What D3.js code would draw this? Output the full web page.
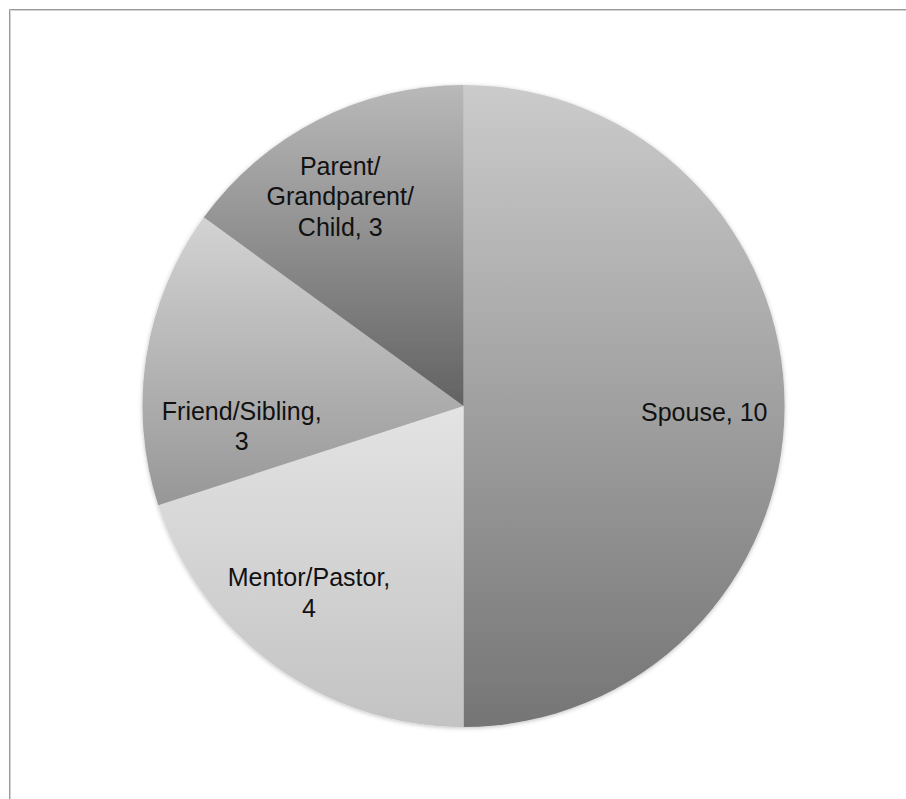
<!DOCTYPE html>
<html>
<head>
<meta charset="utf-8">
<script src="https://cdn.jsdelivr.net/npm/d3@7"></script>
<style>
  html, body { margin: 0; padding: 0; background: #fff; }
  svg { display: block; }
</style>
</head>
<body>
<svg id="chart" width="906" height="799"></svg>
<script>
// ---- data ----
const categories = ["Spouse", "Mentor/Pastor", "Friend/Sibling", "Parent/Grandparent/Child"];
const values = [10, 4, 3, 3];
const labelLines = [
  ["Spouse, 10"],
  ["Mentor/Pastor,", "4"],
  ["Friend/Sibling,", "3"],
  ["Parent/", "Grandparent/", "Child, 3"]
];

// ---- styles / layout (not data) ----
const gradTop = ["#cbcbcb", "#e3e3e3", "#d3d3d3", "#b9b9b9"];
const gradBottom = ["#757575", "#c3c3c3", "#979797", "#626262"];
const labelNudge = [[0, 6], [-13, -8], [16, 58], [-14, 5]];

const W = 906, H = 799;
const cx = 463.5, cy = 406, R = 321;

const svg = d3.select("#chart");
const defs = svg.append("defs");

// frame lines
svg.append("line").attr("x1", 9.5).attr("x2", W).attr("y1", 9.5).attr("y2", 9.5)
  .attr("stroke", "#9a9a9a").attr("stroke-width", 1);
svg.append("line").attr("x1", 10.5).attr("x2", W).attr("y1", 10.5).attr("y2", 10.5)
  .attr("stroke", "#d2d2d2").attr("stroke-width", 1);
svg.append("line").attr("x1", 9.5).attr("x2", 9.5).attr("y1", 9.5).attr("y2", H)
  .attr("stroke", "#9a9a9a").attr("stroke-width", 1);
svg.append("line").attr("x1", 10.5).attr("x2", 10.5).attr("y1", 10.5).attr("y2", H)
  .attr("stroke", "#d2d2d2").attr("stroke-width", 1);

// soft shadow
const f = defs.append("filter").attr("id", "shadow")
  .attr("x", "-10%").attr("y", "-10%").attr("width", "120%").attr("height", "120%");
f.append("feDropShadow").attr("dx", 0).attr("dy", 1).attr("stdDeviation", 2)
  .attr("flood-color", "#000").attr("flood-opacity", 0.25);

categories.forEach((c, i) => {
  const g = defs.append("linearGradient").attr("id", "grad" + i)
    .attr("x1", 0).attr("y1", 0).attr("x2", 0).attr("y2", 1);
  g.append("stop").attr("offset", "0%").attr("stop-color", gradTop[i]);
  g.append("stop").attr("offset", "100%").attr("stop-color", gradBottom[i]);
});

const pie = d3.pie().sort(null).value(d => d.value);
const arcs = pie(categories.map((c, i) => ({ name: c, value: values[i], idx: i })));
const arc = d3.arc().innerRadius(0).outerRadius(R);
const labelArc = d3.arc().innerRadius(R * 0.75).outerRadius(R * 0.75);

const g = svg.append("g").attr("transform", `translate(${cx},${cy})`);

g.append("g").attr("filter", "url(#shadow)")
  .selectAll("path").data(arcs).join("path")
  .attr("d", arc)
  .attr("fill", d => `url(#grad${d.data.idx})`);

const fontSize = 25, lineH = 30.5;
const labels = g.selectAll("text.lbl").data(arcs).join("text")
  .attr("class", "lbl")
  .attr("font-family", "'Liberation Sans', Arial, Helvetica, sans-serif")
  .attr("font-size", fontSize)
  .attr("fill", "#111")
  .attr("text-anchor", "middle")
  .each(function(d) {
    const [x0, y0] = labelArc.centroid(d);
    const nud = labelNudge[d.data.idx];
    const lines = labelLines[d.data.idx];
    const x = x0 + nud[0];
    const yc = y0 + nud[1];
    const startY = yc - (lines.length - 1) * lineH / 2;
    const t = d3.select(this);
    lines.forEach((ln, k) => {
      t.append("tspan").attr("x", x).attr("y", startY + k * lineH)
        .attr("dy", "0.35em").text(ln);
    });
  });
</script>
</body>
</html>
